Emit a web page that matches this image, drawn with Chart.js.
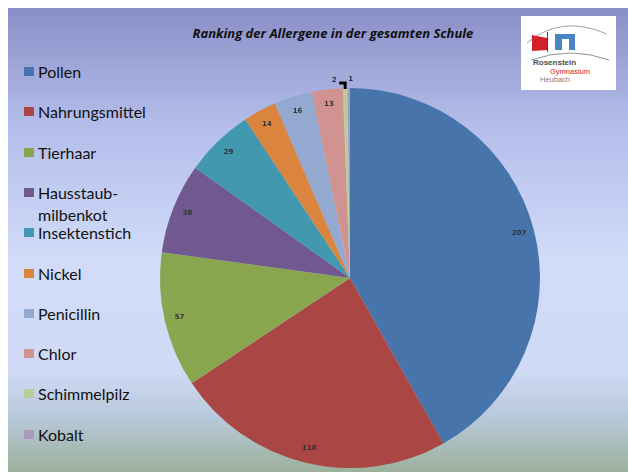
<!DOCTYPE html>
<html>
<head>
<meta charset="utf-8">
<script src="https://cdn.jsdelivr.net/npm/chart.js@4.4.1/dist/chart.umd.min.js"></script>
<style>
  html, body { margin: 0; padding: 0; background: #fff; }
  #slide {
    position: absolute; left: 8px; top: 8px; width: 620px; height: 464px;
    background: linear-gradient(to bottom, #8a8ec7 0%, #b4bdea 25%, #d2dcf9 55%, #d0daf6 78%, #b9c9dc 88%, #9bb19b 100%);
    overflow: hidden;
  }
  #title {
    position: absolute; left: 0; width: 666px; top: 24px; text-align: center;
    font: italic bold 13px "Open Sans", sans-serif; color: #111;
  }
  #legend { position: absolute; left: 0; top: 0; }
  .item { position: absolute; left: 24px; width: 120px; font: 16px Lato, sans-serif; color: #111; line-height: 22px; }
  .item .box { position: absolute; left: 0; top: 6px; width: 10px; height: 9px; }
  .item .txt { position: absolute; left: 14px; width: 112px; }
  #logo { position: absolute; left: 521px; top: 16px; width: 95px; height: 74px; background: #fff; }
  #chart { position: absolute; left: 0; top: 0; }
</style>
</head>
<body>
<div id="slide"></div>
<div id="title">Ranking der Allergene in der gesamten Schule</div>
<div id="legend"></div>
<div id="logo">
  <svg width="95" height="74" viewBox="0 0 95 74">
    <path d="M6 27 Q40 -2 86 18" fill="none" stroke="#888" stroke-width="0.8"/>
    <path d="M10 44 Q50 30 88 44" fill="none" stroke="#777" stroke-width="0.8"/>
    <polygon points="11,19 26,22 26,34 11,35" fill="#d3202a"/>
    <line x1="26.5" y1="16" x2="26.5" y2="36" stroke="#444" stroke-width="1"/>
    <rect x="34" y="18" width="20" height="16" fill="#4a84c4"/>
    <rect x="41" y="23" width="7" height="11" fill="#fff"/>
    <text x="12" y="49" font-family="Liberation Sans, Arial" font-size="8" font-weight="bold" fill="#4d4d4d">Rosenstein</text>
    <text x="29" y="58" font-family="Liberation Sans, Arial" font-size="7.5" fill="#d3202a">Gymnasium</text>
    <text x="19" y="66" font-family="Liberation Sans, Arial" font-size="7.5" fill="#808080">Heubach</text>
  </svg>
</div>
<canvas id="chart" width="628" height="472"></canvas>
<script>
const labels = ['Pollen', 'Nahrungsmittel', 'Tierhaar', 'Hausstaub-milbenkot', 'Insektenstich', 'Nickel', 'Penicillin', 'Chlor', 'Schimmelpilz', 'Kobalt'];
const counts = [207, 118, 57, 38, 29, 14, 16, 13, 2, 1];
const colors = ['#4674ab', '#aa4643', '#89a54e', '#71588f', '#4198af', '#db843d', '#93a9cf', '#d19392', '#b9cd96', '#a99bbd'];

// Legende links als HTML
const legend = document.getElementById('legend');
labels.forEach((name, i) => {
    const div = document.createElement('div');
    div.className = 'item';
    div.style.top = (61 + i * 40.3) + 'px';
    div.innerHTML = '<span class="box" style="background:' + colors[i] + '"></span><span class="txt">' + name + '</span>';
    legend.appendChild(div);
});

// Werte an die Segmente schreiben
const valueLabels = {
    id: 'valueLabels',
    afterDatasetsDraw(chart) {
        const ctx = chart.ctx;
        const meta = chart.getDatasetMeta(0);
        ctx.save();
        ctx.font = 'bold 7px "DejaVu Sans", sans-serif';
        ctx.textAlign = 'center';
        ctx.textBaseline = 'middle';
        meta.data.forEach((arc, i) => {
            const p = arc.getProps(['x', 'y', 'startAngle', 'endAngle', 'outerRadius'], true);
            const mid = (p.startAngle + p.endAngle) / 2;
            const v = chart.data.datasets[0].data[i];
            const ex = p.x + Math.cos(mid) * p.outerRadius;
            const ey = p.y + Math.sin(mid) * p.outerRadius;
            ctx.fillStyle = '#333';
            if (v >= 5) {
                const r = p.outerRadius * 0.92;
                ctx.fillText(v, p.x + Math.cos(mid) * r, p.y + Math.sin(mid) * r);
            } else if (v === 2) {
                // kleiner Wert aussen mit Fuehrungslinie
                ctx.strokeStyle = '#000';
                ctx.lineWidth = 3;
                ctx.beginPath();
                ctx.moveTo(ex, ey + 1);
                ctx.lineTo(ex, ey - 5);
                ctx.lineTo(ex - 6, ey - 5);
                ctx.stroke();
                ctx.fillText(v, ex - 11, ey - 8);
            } else {
                ctx.fillText(v, ex + 2, ey - 9);
            }
        });
        ctx.restore();
    }
};

new Chart(document.getElementById('chart'), {
    type: 'pie',
    data: {
        labels: labels,
        datasets: [{
            data: counts,
            backgroundColor: colors,
            borderWidth: 0,
            hoverOffset: 0
        }]
    },
    options: {
        responsive: false,
        animation: false,
        devicePixelRatio: 1,
        layout: { padding: { left: 160, right: 88, top: 88, bottom: 4 } },
        plugins: {
            legend: { display: false },
            tooltip: { enabled: false },
            title: { display: false }
        }
    },
    plugins: [valueLabels]
});
</script>
</body>
</html>
